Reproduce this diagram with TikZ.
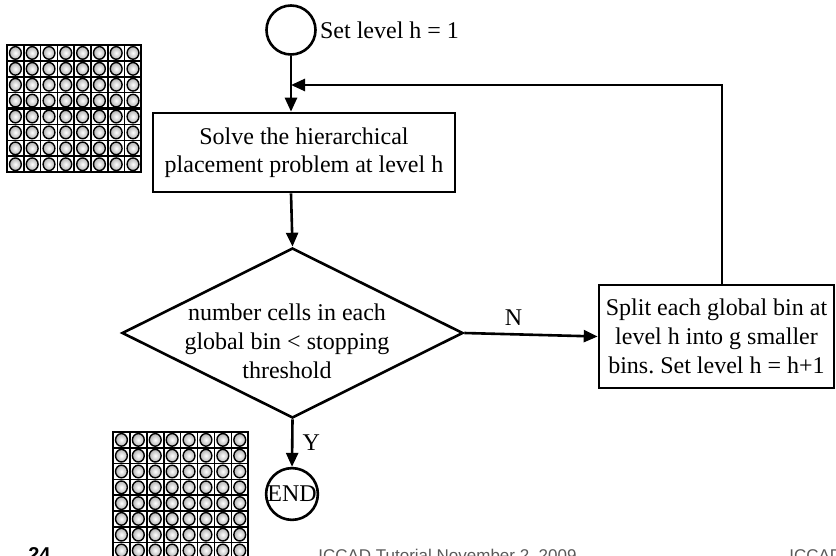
\documentclass[tikz,border=0pt]{standalone}
\usepackage{fontspec}
\setmainfont{Liberation Serif}
\setsansfont{Liberation Sans}
\usetikzlibrary{arrows.meta,shapes.geometric}
\frenchspacing

% one 8x8 block of placed cells: #1,#2 = top-left corner, #3,#4 = cell size
\newcommand{\cellgrid}[4]{%
  \foreach \i in {0,...,7}{
    \foreach \j in {0,...,7}{
      \pgfmathsetmacro{\cx}{#1+(\i+0.5)*#3}
      \pgfmathsetmacro{\cy}{#2+(\j+0.5)*#4}
      \shade[inner color=white,outer color=gray!60] (\cx,\cy) ellipse [x radius=5.9, y radius=6.3];
      \draw[line width=1.4pt] (\cx,\cy) ellipse [x radius=5.9, y radius=6.3];
      \draw[line width=1.6pt] (#1+\i*#3,#2+\j*#4) rectangle ++(#3,#4);
    }
  }
  \draw[line width=2pt] (#1,#2) rectangle ++(8*#3,8*#4);
  \draw[line width=2.4pt] (#1,#2+4*#4) -- ++(8*#3,0);
}

\begin{document}
\begin{tikzpicture}[x=1pt,y=-1pt,line width=2.6pt,
  >={Triangle[length=14pt,width=12pt]},
  txt/.style={font=\fontsize{24}{29}\selectfont},
  ring/.style={circle,draw,minimum size=49pt,inner sep=0pt},
  stepbox/.style={draw,align=center,inner sep=0pt,txt},
  decision/.style={diamond,draw,inner sep=0pt,minimum width=341pt,minimum height=170pt},
  foot/.style={font=\sffamily\fontsize{17}{19}\selectfont,text=gray!70!black,inner sep=0pt}]
\useasboundingbox (0,0) rectangle (836,556);
\clip (0,0) rectangle (836,556);

% cell arrays before and after refinement
\cellgrid{7}{45}{16.8}{15.9}
\cellgrid{113}{432}{16.9}{15.8}

% flow
\node[ring] (start) at (291,30) {};
\node[txt,anchor=west,inner sep=2pt] (setlbl) at (start.east) {Set level h = 1};

\node[stepbox,font=\fontsize{24}{28}\selectfont,minimum width=302pt,minimum height=79pt] (solve) at (304,152.5)
  {Solve the hierarchical\\placement problem at level h};

\node[decision] (test) at (292.5,333) {};
\node[txt,align=center,inner sep=0pt] (testtxt) at (287,341)
  {number cells in each\\global bin < stopping\\threshold};

\node[stepbox,minimum width=235pt,minimum height=103pt] (split) at (716.5,336.5)
  {Split each global bin at\\level h into g smaller\\bins. Set level h = h+1};

\node[ring,txt] (finish) at (292,494) {END};

\coordinate (join) at (291,85);

\draw[->] (start.south) -- (start.south |- solve.north);
\draw[->] (start.south |- solve.south) -- (test.north);
\draw[->] (test.east) -- node[txt,pos=0.37,above=7pt,inner sep=0pt] (nlbl) {N} (split.west);
\draw[->] (test.south) -- node[txt,right=9pt,inner sep=0pt] (ylbl) {Y} (finish.north);
\draw[->] ([xshift=5.5pt]split.north) |- (join);

% slide footer
\node[foot,font=\sffamily\bfseries\fontsize{20}{22}\selectfont,text=black,anchor=north west] (pgno) at (27,546) {24};
\node[foot,anchor=north west] (ftitle) at (317,548) {ICCAD Tutorial November 2, 2009};
\node[foot,anchor=north west] (fright) at (788,548) {ICCAD 2009};
\end{tikzpicture}
\end{document}
